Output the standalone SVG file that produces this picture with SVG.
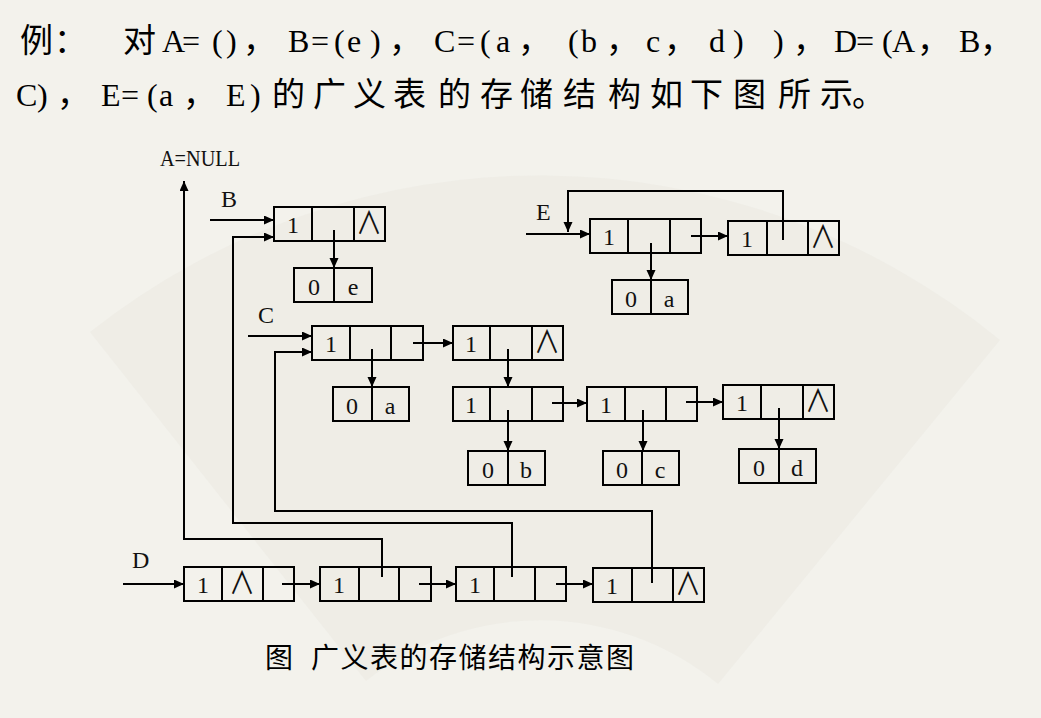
<svg xmlns="http://www.w3.org/2000/svg" width="1041" height="718" viewBox="0 0 1041 718">
<defs>
<marker id="ah" markerUnits="userSpaceOnUse" markerWidth="11" markerHeight="10" refX="10" refY="4.5" orient="auto">
<path d="M0,0 L10,4.5 L0,9 z" fill="#000"/>
</marker>
<style>
.box{fill:none;stroke:#000;stroke-width:2}
.cell{stroke:#000;stroke-width:2}
.ln{fill:none;stroke:#000;stroke-width:2}
.arr{fill:none;stroke:#000;stroke-width:2;marker-end:url(#ah)}
.t{font-family:"Liberation Serif","DejaVu Serif",serif;font-size:24px;fill:#111;text-anchor:middle}
.nul{font-family:"Noto Sans CJK SC",sans-serif;font-size:26px;fill:#111;text-anchor:middle}
.lab{font-family:"Liberation Serif",serif;font-size:24px;fill:#111}
.h{font-family:"Liberation Serif",serif;font-size:32px;fill:#000}
.hc{font-family:"Noto Sans CJK SC",sans-serif;font-size:33px;fill:#000}
.cap{font-family:"Noto Sans CJK SC",sans-serif;font-size:28px;fill:#000}
</style>
</defs>
<rect x="0" y="0" width="1041" height="718" fill="#f3f2ec"/>
<path d="M90,332 A725,725 0 0 1 1000,340 L718,684 A280,280 0 0 0 366,681 Z" fill="#e9e7de" opacity="0.4"/>

<g id="title">
<text class="hc" y="52"><tspan x="20">例</tspan><tspan x="54">：</tspan><tspan x="123">对</tspan></text>
<text class="h" y="52"><tspan x="162 182 212 226">A=()</tspan><tspan x="288 311 334 347 370">B=(e)</tspan><tspan x="434 457 480 496">C=(a</tspan><tspan x="568 581">(b</tspan><tspan x="646">c</tspan><tspan x="709 733">d)</tspan><tspan x="773">)</tspan><tspan x="834 856 882 892">D=(A</tspan><tspan x="959">B</tspan></text>
<text class="hc" y="52"><tspan x="243">，</tspan><tspan x="389">，</tspan><tspan x="518">，</tspan><tspan x="606">，</tspan><tspan x="664">，</tspan><tspan x="793">，</tspan><tspan x="917">，</tspan><tspan x="980">，</tspan></text>
<text class="h" y="106"><tspan x="16 37">C)</tspan><tspan x="101 121 147 159">E=(a</tspan><tspan x="226 250">E)</tspan></text>
<text class="hc" y="106"><tspan x="57">，</tspan><tspan x="183">，</tspan><tspan x="272 313 353 393 438 480 520 563 608 650 690 733 778 820 852">的广义表的存储结构如下图所示。</tspan></text>
</g>

<g id="labels">
<text class="lab" x="160" y="166" font-size="25" textLength="80" lengthAdjust="spacingAndGlyphs">A=NULL</text>
<text class="lab" x="221" y="207">B</text>
<text class="lab" x="258" y="323">C</text>
<text class="lab" x="132" y="568">D</text>
<text class="lab" x="536" y="220">E</text>
</g>

<g id="connectors">
<path class="arr" d="M382,577 V539 H184 V181"/>
<path class="arr" d="M512,577 V523 H233 V237 H274"/>
<path class="arr" d="M652,583 V511 H275 V352 H312"/>
<path class="arr" d="M210,220 H274"/>
<path class="arr" d="M248,336 H312"/>
<path class="arr" d="M123,584 H184"/>
<path class="arr" d="M526,234 H590"/>
<path class="arr" d="M783,240 V191 H568 V232"/>
<path class="arr" d="M691,236 H728"/>
<path class="arr" d="M651,243 V280"/>
<path class="arr" d="M334,230 V268"/>
<path class="arr" d="M372,349 V387"/>
<path class="arr" d="M413,343 H453"/>
<path class="arr" d="M508,349 V387"/>
<path class="arr" d="M508,410 V451"/>
<path class="arr" d="M552,403 H587"/>
<path class="arr" d="M643,410 V451"/>
<path class="arr" d="M686,402 H723"/>
<path class="arr" d="M779,408 V449"/>
<path class="arr" d="M282,584 H320"/>
<path class="arr" d="M419,584 H456"/>
<path class="arr" d="M556,584 H593"/>
</g>

<g id="B1"><rect class="box" x="274" y="207" width="111" height="34"/><path class="cell" d="M312,207 V241 M354,207 V241"/><text class="t" x="293" y="233">1</text><text class="nul" transform="translate(369,234) scale(1,1.2)">∧</text></g>
<g id="Be"><rect class="box" x="294" y="268" width="78" height="34"/><path class="cell" d="M334,268 V302"/><text class="t" x="314" y="295">0</text><text class="t" x="353" y="295">e</text></g>

<g id="E1"><rect class="box" x="590" y="219" width="111" height="34"/><path class="cell" d="M628,219 V253 M670,219 V253"/><text class="t" x="609" y="245">1</text></g>
<g id="E2"><rect class="box" x="728" y="221" width="111" height="34"/><path class="cell" d="M767,221 V255 M808,221 V255"/><text class="t" x="747" y="247">1</text><text class="nul" transform="translate(823,248) scale(1,1.2)">∧</text></g>
<g id="Ea"><rect class="box" x="612" y="280" width="76" height="34"/><path class="cell" d="M651,280 V314"/><text class="t" x="631" y="307">0</text><text class="t" x="669" y="307">a</text></g>

<g id="C1"><rect class="box" x="312" y="326" width="111" height="34"/><path class="cell" d="M350,326 V360 M391,326 V360"/><text class="t" x="331" y="352">1</text></g>
<g id="C2"><rect class="box" x="453" y="326" width="110" height="34"/><path class="cell" d="M490,326 V360 M532,326 V360"/><text class="t" x="471" y="352">1</text><text class="nul" transform="translate(547,353) scale(1,1.2)">∧</text></g>
<g id="Ca"><rect class="box" x="333" y="387" width="76" height="34"/><path class="cell" d="M372,387 V421"/><text class="t" x="352" y="414">0</text><text class="t" x="390" y="414">a</text></g>
<g id="C3"><rect class="box" x="453" y="387" width="110" height="34"/><path class="cell" d="M490,387 V421 M532,387 V421"/><text class="t" x="471" y="413">1</text></g>
<g id="C4"><rect class="box" x="587" y="387" width="110" height="34"/><path class="cell" d="M625,387 V421 M666,387 V421"/><text class="t" x="606" y="413">1</text></g>
<g id="C5"><rect class="box" x="723" y="385" width="111" height="34"/><path class="cell" d="M761,385 V419 M803,385 V419"/><text class="t" x="742" y="411">1</text><text class="nul" transform="translate(818,412) scale(1,1.2)">∧</text></g>
<g id="Cb"><rect class="box" x="468" y="451" width="77" height="34"/><path class="cell" d="M508,451 V485"/><text class="t" x="488" y="478">0</text><text class="t" x="526" y="478">b</text></g>
<g id="Cc"><rect class="box" x="603" y="451" width="76" height="34"/><path class="cell" d="M642,451 V485"/><text class="t" x="622" y="478">0</text><text class="t" x="660" y="478">c</text></g>
<g id="Cd"><rect class="box" x="739" y="449" width="77" height="34"/><path class="cell" d="M779,449 V483"/><text class="t" x="759" y="476">0</text><text class="t" x="797" y="476">d</text></g>

<g id="D1"><rect class="box" x="184" y="567" width="110" height="34"/><path class="cell" d="M222,567 V601 M263,567 V601"/><text class="t" x="203" y="593">1</text><text class="nul" transform="translate(242,594) scale(1,1.2)">∧</text></g>
<g id="D2"><rect class="box" x="320" y="567" width="111" height="34"/><path class="cell" d="M359,567 V601 M399,567 V601"/><text class="t" x="339" y="593">1</text></g>
<g id="D3"><rect class="box" x="456" y="567" width="110" height="34"/><path class="cell" d="M494,567 V601 M535,567 V601"/><text class="t" x="475" y="593">1</text></g>
<g id="D4"><rect class="box" x="593" y="568" width="111" height="34"/><path class="cell" d="M632,568 V602 M673,568 V602"/><text class="t" x="612" y="594">1</text><text class="nul" transform="translate(688,595) scale(1,1.2)">∧</text></g>

<g id="caption">
<text class="cap" y="668"><tspan x="265">图</tspan><tspan x="311" letter-spacing="1.5">广义表的存储结构示意图</tspan></text>
</g>
</svg>
